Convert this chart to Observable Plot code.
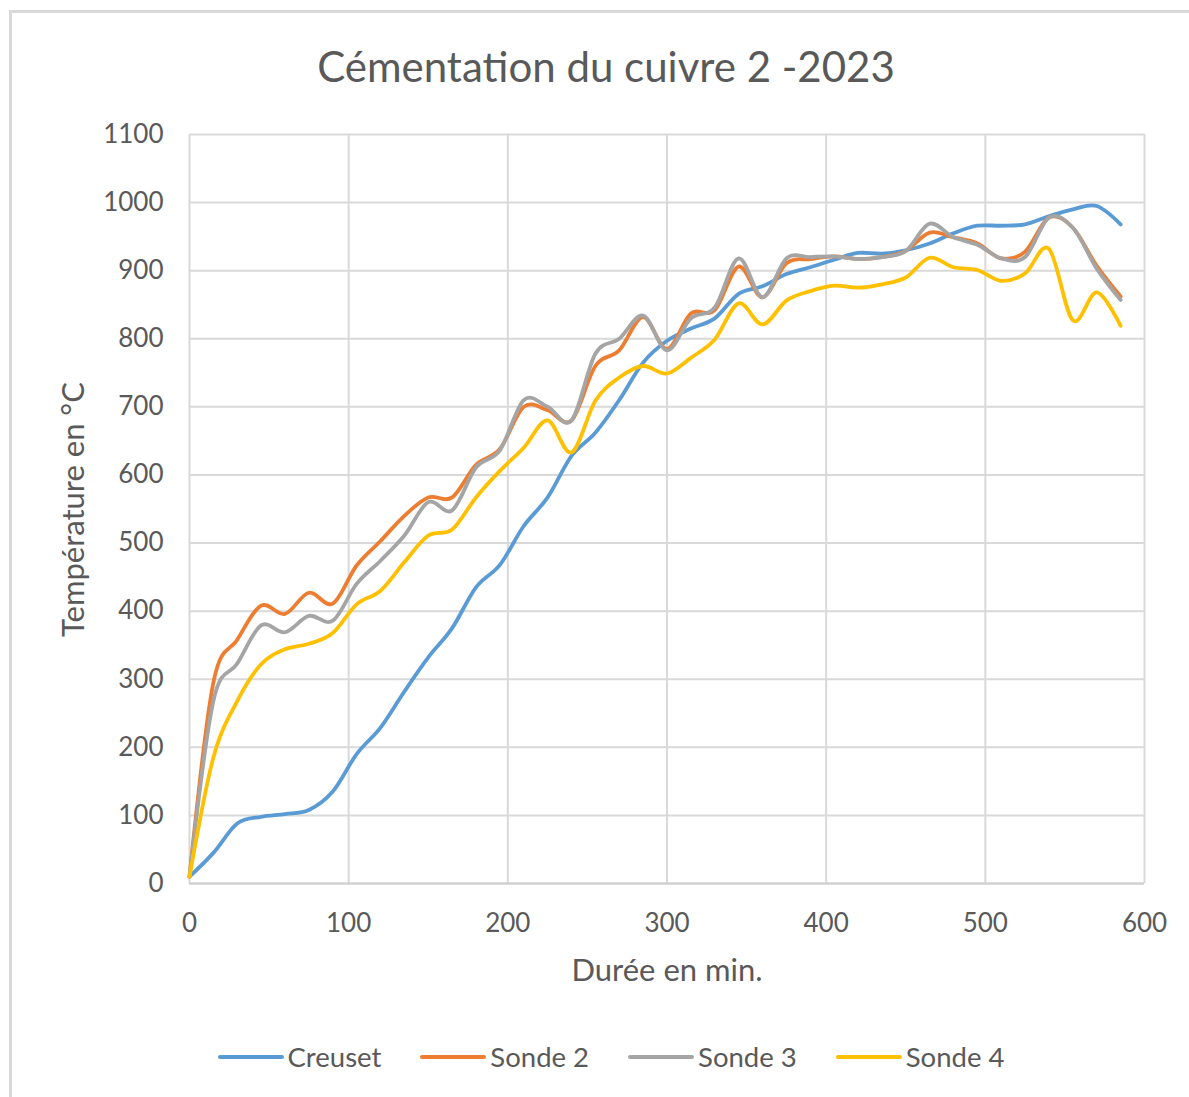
<!DOCTYPE html>
<html>
<head>
<meta charset="utf-8">
<script src="https://cdn.jsdelivr.net/npm/d3@7"></script>
<script src="https://cdn.jsdelivr.net/npm/@observablehq/plot@0.6"></script>
<style>
  html, body { margin: 0; padding: 0; background: #fff; overflow: hidden; width: 1189px; height: 1097px; }
  body { font-family: Lato, "Open Sans", sans-serif; color: #595959; position: relative; }
  #frame { position: absolute; left: 9px; top: 10px; width: 1205px; height: 1120px; border: 3px solid #d9d9d9; box-sizing: border-box; }
  #title { position: absolute; left: 0; width: 1212px; top: 45px; text-align: center; font-size: 42px; line-height: 42px; white-space: nowrap; }
  #chart { position: absolute; left: 0; top: 0; }
  #xlabel { position: absolute; left: 467px; width: 400px; top: 954px; text-align: center; font-size: 31px; line-height: 31px; white-space: nowrap; }
  #ylabel { position: absolute; left: -128px; width: 400px; top: 494px; text-align: center; font-size: 31px; line-height: 31px; transform: rotate(-90deg); white-space: nowrap; }
  #legend { position: absolute; left: 0; width: 1222px; top: 1043px; display: flex; justify-content: center; gap: 39px; font-size: 27.5px; line-height: 28px; }
  .item { display: flex; align-items: center; white-space: nowrap; }
  .sw { width: 66px; height: 4px; border-radius: 2px; margin-right: 4px; }
</style>
</head>
<body>
<div id="frame"></div>
<div id="chart"></div>
<div id="title">Cémentation du cuivre 2 -2023</div>
<div id="xlabel">Durée en min.</div>
<div id="ylabel">Température en °C</div>
<div id="legend"></div>
<script>
// Time in minutes (one reading every 15 min)
const minutes = [0, 15, 30, 45, 60, 75, 90, 105, 120, 135, 150, 165, 180, 195, 210, 225, 240, 255, 270, 285,
                 300, 315, 330, 345, 360, 375, 390, 405, 420, 435, 450, 465, 480, 495, 510, 525, 540, 555, 570, 585];

const creuset = [10, 45, 88, 98, 102, 108, 135, 190, 229, 282, 332, 375, 435, 468, 525, 567, 628, 662, 710, 765,
                 797, 815, 830, 866, 877, 895, 905, 916, 926, 925, 930, 940, 955, 966, 966, 968, 980, 990, 995, 968];

const sonde2 = [10, 295, 358, 408, 396, 427, 411, 467, 503, 540, 567, 567, 615, 638, 700, 695, 680, 760, 783, 832,
                785, 837, 842, 906, 861, 911, 917, 921, 917, 920, 929, 956, 949, 940, 918, 928, 978, 963, 907, 862];

const sonde3 = [10, 268, 323, 379, 369, 393, 386, 440, 474, 511, 560, 548, 611, 636, 710, 700, 680, 778, 800, 834,
                783, 830, 846, 918, 861, 918, 920, 921, 917, 920, 929, 969, 949, 938, 918, 920, 978, 963, 903, 857];

const sonde4 = [10, 185, 268, 322, 344, 352, 368, 410, 430, 472, 511, 520, 567, 606, 640, 680, 633, 709, 743, 760,
                749, 772, 799, 852, 821, 856, 870, 878, 875, 880, 890, 919, 905, 901, 885, 896, 932, 827, 868, 819];

const seriesNames = ["Creuset", "Sonde 2", "Sonde 3", "Sonde 4"];
const seriesColors = ["#5B9BD5", "#ED7D31", "#A5A5A5", "#FFC000"];
const xTicks = [0, 100, 200, 300, 400, 500, 600];
const yTicks = [0, 100, 200, 300, 400, 500, 600, 700, 800, 900, 1000, 1100];

const seriesValues = [creuset, sonde2, sonde3, sonde4];
const rows = [];
seriesValues.forEach((arr, i) => arr.forEach((v, j) => rows.push({t: minutes[j], v, s: seriesNames[i]})));

const chart = Plot.plot({
  width: 1189,
  height: 1000,
  marginLeft: 189,
  marginRight: 45,
  marginTop: 134,
  marginBottom: 117,
  x: {domain: [0, 600]},
  y: {domain: [0, 1100]},
  color: {domain: seriesNames, range: seriesColors},
  style: {fontFamily: "Lato, 'Open Sans', sans-serif", fontSize: "26px", color: "#595959", background: "transparent"},
  marks: [
    Plot.gridX(xTicks, {stroke: "#d9d9d9", strokeOpacity: 1, strokeWidth: 2}),
    Plot.gridY(yTicks, {stroke: "#d9d9d9", strokeOpacity: 1, strokeWidth: 2}),
    Plot.ruleY([0], {stroke: "#cfcfcf", strokeWidth: 2}),
    Plot.axisX(xTicks, {tickSize: 0, tickPadding: 30, label: null, tickFormat: "d", fontSize: 26}),
    Plot.axisY(yTicks, {tickSize: 0, tickPadding: 26, label: null, tickFormat: "d", fontSize: 26}),
    Plot.lineY(rows, {x: "t", y: "v", z: "s", stroke: "s", strokeWidth: 3.8, curve: "cardinal"})
  ]
});
document.getElementById("chart").appendChild(chart);

const legend = document.getElementById("legend");
seriesNames.forEach((name, i) => {
  const item = document.createElement("div");
  item.className = "item";
  const sw = document.createElement("span");
  sw.className = "sw";
  sw.style.background = seriesColors[i];
  const lab = document.createElement("span");
  lab.textContent = name;
  item.appendChild(sw);
  item.appendChild(lab);
  legend.appendChild(item);
});
</script>
</body>
</html>
